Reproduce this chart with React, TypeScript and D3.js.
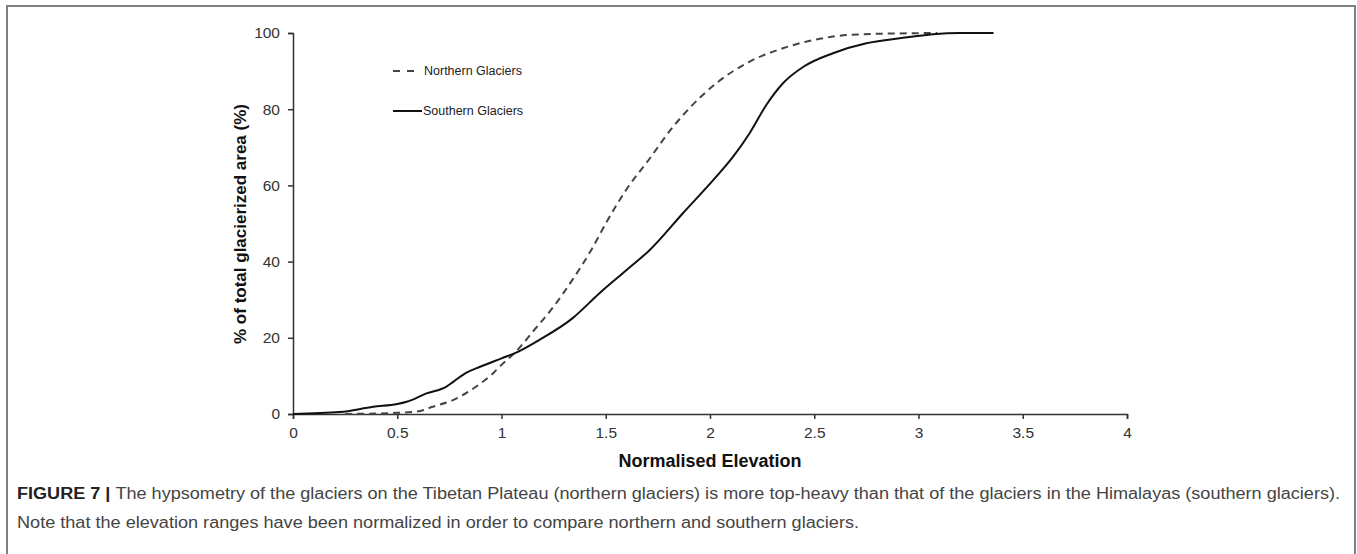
import React, { useRef, useEffect } from 'react';
import * as d3 from 'd3';

// Northern glaciers (dashed)
const northElev = [0.25, 0.5, 0.61, 0.67, 0.77, 0.865, 0.96, 1.0, 1.07, 1.15, 1.25, 1.34, 1.43, 1.5, 1.6, 1.71, 1.81, 1.9, 2.03, 2.19, 2.35, 2.51, 2.67, 2.91, 3.09];
const northArea = [0, 0.3, 0.8, 1.9, 3.7, 6.7, 10.7, 12.9, 16.4, 21.6, 28.2, 35.2, 43, 50, 59, 67, 74.5, 80.2, 86.8, 92.5, 96, 98.3, 99.5, 99.9, 100];

// Southern glaciers (solid)
const southElev = [0, 0.225, 0.385, 0.5, 0.545, 0.64, 0.736, 0.77, 0.83, 0.897, 1.0, 1.07, 1.18, 1.34, 1.47, 1.6, 1.71, 1.87, 2.03, 2.11, 2.19, 2.27, 2.35, 2.45, 2.59, 2.75, 2.91, 3.07, 3.2, 3.36];
const southArea = [0, 0.5, 1.9, 2.6, 3.2, 5.4, 7.2, 8.5, 10.8, 12.4, 14.6, 16.1, 19.4, 25.1, 31.7, 37.8, 43, 52.7, 62.3, 67.5, 73.7, 81.1, 86.8, 91.2, 94.7, 97.3, 98.6, 99.7, 100, 100];

const xTicks = [0, 0.5, 1, 1.5, 2, 2.5, 3, 3.5, 4];
const yTicks = [0, 20, 40, 60, 80, 100];

const captionLine1 = 'The hypsometry of the glaciers on the Tibetan Plateau (northern glaciers) is more top-heavy than that of the glaciers in the Himalayas (southern glaciers).';
const captionLine2 = 'Note that the elevation ranges have been normalized in order to compare northern and southern glaciers.';

const App = () => {
    const ref = useRef<SVGSVGElement>(null);

    useEffect(() => {
        const svg = d3.select(ref.current);
        svg.selectAll('*').remove();

        const font = '"Liberation Sans", Arial, sans-serif';

        // outer figure frame
        svg.append('rect')
            .attr('x', 7).attr('y', 6)
            .attr('width', 1348).attr('height', 620)
            .attr('fill', 'none')
            .attr('stroke', '#808080')
            .attr('stroke-width', 2);

        const x = d3.scaleLinear().domain([0, 4]).range([293, 1127]);
        const y = d3.scaleLinear().domain([0, 100]).range([414, 33]);

        const xAxis = svg.append('g')
            .attr('transform', 'translate(0,414)')
            .call(d3.axisBottom(x).tickValues(xTicks).tickSize(5).tickPadding(8).tickFormat(d => String(d)));
        xAxis.select('.domain').attr('stroke', '#333').attr('stroke-width', 1.5);
        xAxis.selectAll('line').attr('stroke', '#333').attr('stroke-width', 1.5);
        xAxis.selectAll('text').attr('font-family', font).attr('font-size', 15.5).attr('fill', '#333');

        const yAxis = svg.append('g')
            .attr('transform', 'translate(293,0)')
            .call(d3.axisLeft(y).tickValues(yTicks).tickSize(5).tickPadding(8));
        yAxis.select('.domain').attr('stroke', '#333').attr('stroke-width', 1.5);
        yAxis.selectAll('line').attr('stroke', '#333').attr('stroke-width', 1.5);
        yAxis.selectAll('text').attr('font-family', font).attr('font-size', 15.5).attr('fill', '#333');

        const line = d3.line<[number, number]>()
            .x(d => x(d[0]))
            .y(d => y(d[1]))
            .curve(d3.curveMonotoneX);

        svg.append('path')
            .datum(northElev.map((e, i) => [e, northArea[i]] as [number, number]))
            .attr('d', line)
            .attr('fill', 'none')
            .attr('stroke', '#444')
            .attr('stroke-width', 2)
            .attr('stroke-dasharray', '7,5');

        svg.append('path')
            .datum(southElev.map((e, i) => [e, southArea[i]] as [number, number]))
            .attr('d', line)
            .attr('fill', 'none')
            .attr('stroke', '#111')
            .attr('stroke-width', 2);

        // legend
        svg.append('line')
            .attr('x1', 393).attr('x2', 415).attr('y1', 71).attr('y2', 71)
            .attr('stroke', '#444').attr('stroke-width', 2).attr('stroke-dasharray', '7,7');
        svg.append('text')
            .attr('x', 424).attr('y', 75)
            .attr('font-family', font).attr('font-size', 12.5).attr('fill', '#222')
            .text('Northern Glaciers');
        svg.append('line')
            .attr('x1', 393).attr('x2', 422).attr('y1', 111).attr('y2', 111)
            .attr('stroke', '#111').attr('stroke-width', 2);
        svg.append('text')
            .attr('x', 423).attr('y', 115)
            .attr('font-family', font).attr('font-size', 12.5).attr('fill', '#222')
            .text('Southern Glaciers');

        // axis titles
        svg.append('text')
            .attr('x', 710).attr('y', 467)
            .attr('text-anchor', 'middle')
            .attr('font-family', font).attr('font-size', 18).attr('font-weight', 'bold').attr('fill', '#111')
            .text('Normalised Elevation');
        svg.append('text')
            .attr('transform', 'translate(246,224) rotate(-90)')
            .attr('text-anchor', 'middle')
            .attr('font-family', font).attr('font-size', 17).attr('font-weight', 'bold').attr('fill', '#111')
            .text('% of total glacierized area (%)');

        // caption
        const cap1 = svg.append('text')
            .attr('x', 17).attr('y', 499)
            .attr('font-family', font).attr('font-size', 16).attr('fill', '#444')
            .attr('textLength', 1323).attr('lengthAdjust', 'spacingAndGlyphs');
        cap1.append('tspan').attr('font-weight', 'bold').attr('fill', '#222').text('FIGURE 7 | ');
        cap1.append('tspan').text(captionLine1);

        svg.append('text')
            .attr('x', 17).attr('y', 528)
            .attr('font-family', font).attr('font-size', 16).attr('fill', '#444')
            .attr('textLength', 842).attr('lengthAdjust', 'spacingAndGlyphs')
            .text(captionLine2);
    }, []);

    return (
        <svg ref={ref} width={1357} height={554}
            style={{ position: 'absolute', left: 0, top: 0, background: '#fff' }} />
    );
};

export default App;
